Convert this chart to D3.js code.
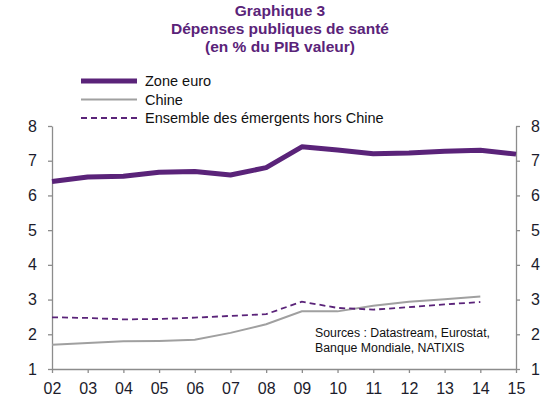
<!DOCTYPE html>
<html>
<head>
<meta charset="utf-8">
<script src="https://cdn.jsdelivr.net/npm/d3@7"></script>
<style>
  body { margin: 0; background: #fff; }
  svg text { font-family: "Liberation Sans", Arial, sans-serif; }
</style>
</head>
<body>
<div id="chart"></div>
<script>
"use strict";

// years on the x axis (labels shown as 2 digits)
var years = ["02", "03", "04", "05", "06", "07", "08", "09", "10", "11", "12", "13", "14", "15"];
var yTicks = [1, 2, 3, 4, 5, 6, 7, 8];

var zoneEuro = [6.40, 6.53, 6.55, 6.67, 6.69, 6.59, 6.80, 7.40, 7.31, 7.20, 7.22, 7.27, 7.30, 7.19];
var chine = [1.70, 1.75, 1.80, 1.81, 1.84, 2.04, 2.29, 2.66, 2.66, 2.82, 2.94, 3.01, 3.09];
var emergents = [2.49, 2.47, 2.43, 2.44, 2.48, 2.53, 2.58, 2.94, 2.76, 2.71, 2.78, 2.86, 2.93];

var titleLines = ["Graphique 3", "Dépenses publiques de santé", "(en % du PIB valeur)"];
var sourceLines = ["Sources : Datastream, Eurostat,", "Banque Mondiale, NATIXIS"];

var purple = "#5a2379";
var grey = "#a0a0a0";
var axisColor = "#8c8c8c";

var width = 560, height = 399;
var margin = {top: 126, right: 44, bottom: 30, left: 52};
var innerW = width - margin.left - margin.right,
    innerH = height - margin.top - margin.bottom;

var svg = d3.select("#chart").append("svg")
    .attr("width", width)
    .attr("height", height);

// title
svg.append("g").selectAll("text")
    .data(titleLines)
    .enter().append("text")
    .attr("x", 280)
    .attr("y", function(d, i) { return 16 + i * 18; })
    .attr("text-anchor", "middle")
    .style("font-size", "15.5px")
    .style("font-weight", "bold")
    .attr("fill", purple)
    .text(function(d) { return d; });

var g = svg.append("g").attr("transform", "translate(" + margin.left + "," + margin.top + ")");

var x = d3.scalePoint().domain(years).range([0, innerW]);
var y = d3.scaleLinear().domain([1, 8]).range([innerH, 0]);

function styleAxis(sel) {
    sel.select(".domain").attr("stroke", axisColor).attr("stroke-width", 1.3);
    sel.selectAll(".tick line").attr("stroke", axisColor).attr("stroke-width", 1.3);
    sel.selectAll(".tick text")
        .attr("fill", "#1c1c2c")
        .style("font-size", "16px")
        .style("font-family", "\"Liberation Sans\", Arial, sans-serif");
}

g.append("g")
    .attr("transform", "translate(0," + innerH + ")")
    .call(d3.axisBottom(x).tickSizeInner(4).tickSizeOuter(0).tickPadding(10))
    .call(styleAxis);

g.append("g")
    .call(d3.axisLeft(y).tickValues(yTicks).tickFormat(d3.format("d"))
        .tickSizeInner(4).tickSizeOuter(0).tickPadding(11))
    .call(styleAxis);

g.append("g")
    .attr("transform", "translate(" + innerW + ",0)")
    .call(d3.axisRight(y).tickValues(yTicks).tickFormat(d3.format("d"))
        .tickSizeInner(4).tickSizeOuter(0).tickPadding(11))
    .call(styleAxis);

var line = d3.line()
    .x(function(d, i) { return x(years[i]); })
    .y(function(d) { return y(d); });

g.append("path")
    .datum(chine)
    .attr("fill", "none")
    .attr("stroke", grey)
    .attr("stroke-width", 2)
    .attr("d", line);

g.append("path")
    .datum(emergents)
    .attr("fill", "none")
    .attr("stroke", purple)
    .attr("stroke-width", 1.8)
    .attr("stroke-dasharray", "6,4")
    .attr("d", line);

g.append("path")
    .datum(zoneEuro)
    .attr("fill", "none")
    .attr("stroke", purple)
    .attr("stroke-width", 5)
    .attr("stroke-linejoin", "round")
    .attr("d", line);

// legend
var legendItems = [
    {label: "Zone euro", color: purple, w: 5, dash: null},
    {label: "Chine", color: grey, w: 2, dash: null},
    {label: "Ensemble des émergents hors Chine", color: purple, w: 1.8, dash: "6,4"}
];

var lg = svg.append("g").selectAll("g")
    .data(legendItems)
    .enter().append("g")
    .attr("transform", function(d, i) { return "translate(81," + (81 + i * 18.5) + ")"; });

lg.append("line")
    .attr("x1", 0).attr("x2", 56)
    .attr("stroke", function(d) { return d.color; })
    .attr("stroke-width", function(d) { return d.w; })
    .attr("stroke-dasharray", function(d) { return d.dash; });

lg.append("text")
    .attr("x", 64)
    .attr("dy", "0.35em")
    .style("font-size", "14.5px")
    .attr("fill", "#111")
    .text(function(d) { return d.label; });

// sources
svg.append("g").selectAll("text")
    .data(sourceLines)
    .enter().append("text")
    .attr("x", 315)
    .attr("y", function(d, i) { return 337 + i * 14.5; })
    .style("font-size", "12.3px")
    .attr("fill", "#111")
    .text(function(d) { return d; });
</script>
</body>
</html>
